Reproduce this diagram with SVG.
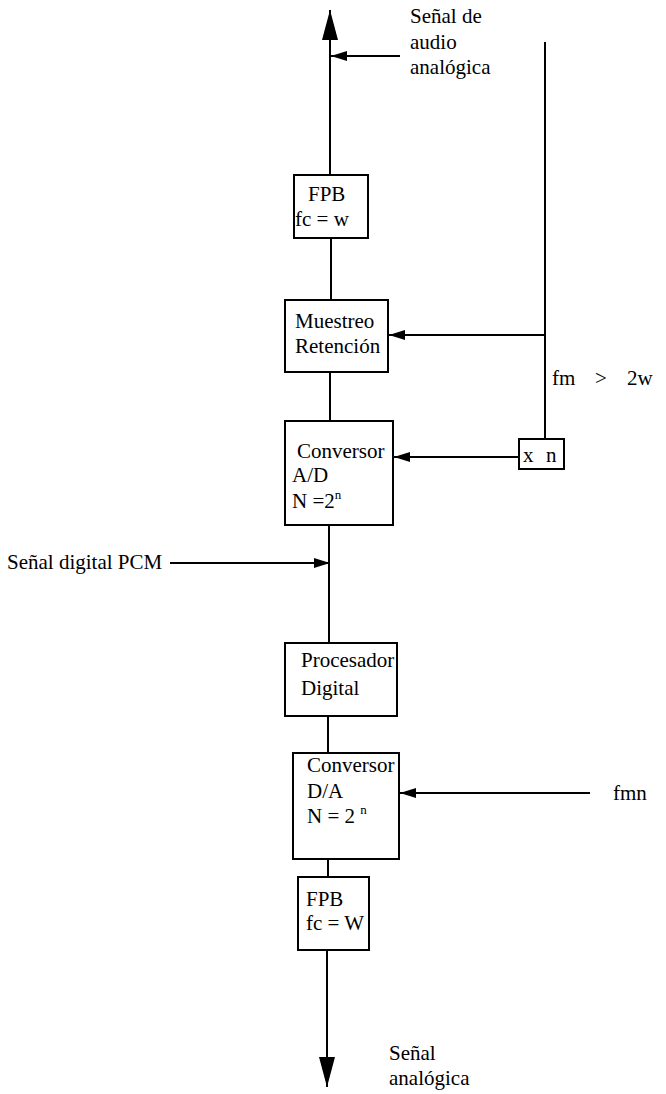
<svg xmlns="http://www.w3.org/2000/svg" width="666" height="1094" viewBox="0 0 666 1094">
<style>
text{font-family:"Liberation Serif","Times New Roman",serif;font-size:21px;fill:#000}
.box{fill:#fff;stroke:#000;stroke-width:2}
.ln{stroke:#000;stroke-width:2;fill:none}
.sup{font-size:13px}
</style>
<defs>
<marker id="big" markerUnits="userSpaceOnUse" markerWidth="30" markerHeight="16" viewBox="0 0 30 16" refX="30" refY="8" orient="auto"><path d="M0,0 L30,8 L0,16 z" fill="#000"/></marker>
<marker id="sm" markerUnits="userSpaceOnUse" markerWidth="16" markerHeight="10" viewBox="0 0 16 10" refX="16" refY="5" orient="auto"><path d="M0,0 L16,5 L0,10 z" fill="#000"/></marker>
</defs>
<rect width="666" height="1094" fill="#fff"/>
<g id="connectors">
<line class="ln" x1="330" y1="175" x2="330" y2="10" marker-end="url(#big)"/>
<line class="ln" x1="400" y1="56" x2="331" y2="56" marker-end="url(#sm)"/>
<line class="ln" x1="545" y1="42" x2="545" y2="439"/>
<line class="ln" x1="545" y1="335" x2="389" y2="335" marker-end="url(#sm)"/>
<line class="ln" x1="519" y1="457" x2="394" y2="457" marker-end="url(#sm)"/>
<line class="ln" x1="331" y1="238" x2="331" y2="300"/>
<line class="ln" x1="330" y1="372" x2="330" y2="421"/>
<line class="ln" x1="329" y1="525" x2="329" y2="643"/>
<line class="ln" x1="328" y1="716" x2="328" y2="753"/>
<line class="ln" x1="328" y1="859" x2="328" y2="877"/>
<line class="ln" x1="327" y1="950" x2="327" y2="1087" marker-end="url(#big)"/>
<line class="ln" x1="170" y1="563" x2="330" y2="563" marker-end="url(#sm)"/>
<line class="ln" x1="590" y1="793" x2="400" y2="793" marker-end="url(#sm)"/>
</g>
<g id="label-top">
<text x="410" y="23">Señal de</text>
<text x="410" y="49">audio</text>
<text x="410" y="74">analógica</text>
</g>
<g id="fpb1">
<rect class="box" x="294" y="175" width="74" height="63"/>
<text x="308" y="201">FPB</text>
<text x="295" y="226">fc = w</text>
</g>
<g id="muestreo">
<rect class="box" x="285" y="300" width="103" height="72"/>
<text x="295" y="328">Muestreo</text>
<text x="295" y="353">Retención</text>
</g>
<g id="cond">
<text x="552" y="385">fm</text>
<text x="595" y="385">&gt;</text>
<text x="627" y="385">2w</text>
</g>
<g id="conv-ad">
<rect class="box" x="285" y="421" width="108" height="104"/>
<text x="297" y="458">Conversor</text>
<text x="292" y="482">A/D</text>
<text x="292" y="508">N =2<tspan class="sup" dy="-9">n</tspan></text>
</g>
<g id="xn">
<rect class="box" x="519" y="439" width="45" height="30"/>
<text x="523" y="462">x<tspan x="546">n</tspan></text>
</g>
<g id="label-pcm">
<text x="7" y="569">Señal digital PCM</text>
</g>
<g id="procesador">
<rect class="box" x="285" y="643" width="112" height="73"/>
<text x="301" y="667">Procesador</text>
<text x="301" y="695">Digital</text>
</g>
<g id="conv-da">
<rect class="box" x="293" y="753" width="106" height="106"/>
<text x="307" y="772">Conversor</text>
<text x="307" y="798">D/A</text>
<text x="307" y="823">N = 2 <tspan class="sup" dy="-9">n</tspan></text>
</g>
<g id="label-fmn">
<text x="613" y="800">fmn</text>
</g>
<g id="fpb2">
<rect class="box" x="298" y="877" width="71" height="73"/>
<text x="306" y="906">FPB</text>
<text x="306" y="930">fc = W</text>
</g>
<g id="label-bottom">
<text x="389" y="1060">Señal</text>
<text x="389" y="1085">analógica</text>
</g>
</svg>
